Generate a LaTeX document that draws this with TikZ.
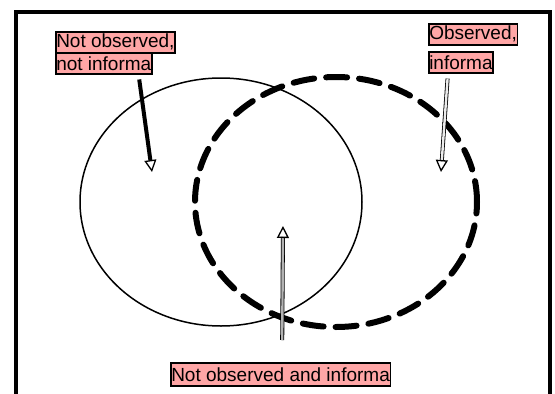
\documentclass[tikz,border=0pt]{standalone}
\usepackage{fontspec}
\setmainfont{Liberation Sans}
\usetikzlibrary{arrows.meta,calc}
\definecolor{labelpink}{RGB}{255,166,166}

\begin{document}
\begin{tikzpicture}[x=1pt,y=-1pt,
    lbl/.style={draw=black, line width=1.5pt, fill=labelpink, anchor=north west,
        inner xsep=0.5pt, inner ysep=0pt, minimum height=21pt,
        font=\fontsize{19}{21}\selectfont},
    opentip/.style={-{Triangle[open, length=12pt, width=12pt, line width=1.3pt]}},
    hollowshaft/.style={line width=0.8pt, double=#1, double distance=2.4pt, shorten >=11pt}]

    \useasboundingbox (0,0) rectangle (555,394);
    \clip (0,0) rectangle (555,394);

    % Frame
    \draw[line width=4pt] (16,420) -- (16,12) -- (550,12) -- (550,420);

    % Sets
    \draw[line width=1.5pt] (221,202) ellipse [x radius=141pt, y radius=124pt];
    \draw[line width=6pt, dash pattern=on 21pt off 12pt, line cap=round]
        (336,202) ellipse [x radius=141pt, y radius=125pt];

    % Labels
    \node[lbl] (nobs1) at (55,31) {Not observed,};
    \node[lbl] (nobs2) at (55,52) {not informa};
    \node[lbl] (obs1) at (428,23) {Observed,};
    \node[lbl] (obs2) at (428,51) {informa};
    \node[lbl, minimum height=23pt] (nobsinf) at (170,362) {Not observed and informa};

    % Tips of the pointers
    \coordinate (tipleft) at (152,172);
    \coordinate (tipright) at (441,172);
    \coordinate (tipmid) at (283,226);

    % Not observed, not informa
    \draw[line width=4pt, shorten <=5pt, opentip] ([xshift=-14pt]nobs2.south east) -- (tipleft);

    % Observed, informa
    \draw[hollowshaft=gray!15, shorten <=5pt] ([xshift=-13pt]obs2.south) -- (tipright);
    \draw[opentip] ($(tipright)!11pt!([xshift=-13pt]obs2.south)$) -- (tipright);

    % Not observed and informa
    \draw[hollowshaft=gray!60, shorten <=22pt] ([xshift=1.5pt]nobsinf.north) -- (tipmid);
    \draw[opentip] ($(tipmid)!11pt!([xshift=1.5pt]nobsinf.north)$) -- (tipmid);

\end{tikzpicture}
\end{document}
